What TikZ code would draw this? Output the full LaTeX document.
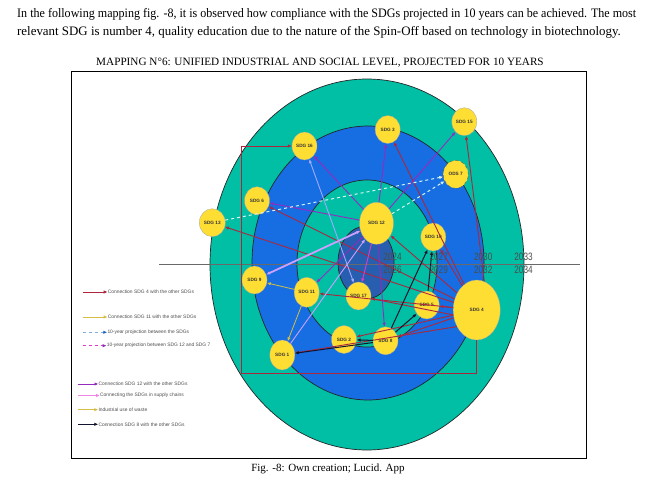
\documentclass[tikz,border=0pt]{standalone}
\usepackage{fontspec}
\setmainfont{Liberation Serif}
\setsansfont{Liberation Sans}
\usetikzlibrary{arrows.meta, shapes.geometric}

\definecolor{ringteal}{RGB}{0,191,165}
\definecolor{ringblue}{RGB}{22,110,226}
\definecolor{coreblue}{RGB}{40,94,176}
\definecolor{sdgyellow}{RGB}{255,222,52}
\definecolor{linkred}{RGB}{172,38,62}
\definecolor{linkpurple}{RGB}{150,42,190}
\definecolor{linklilac}{RGB}{205,160,255}
\definecolor{linkblue}{RGB}{160,170,255}
\definecolor{linkgold}{RGB}{214,190,70}
\definecolor{linkblack}{RGB}{18,20,45}
\definecolor{linkcyan}{RGB}{215,245,240}
\definecolor{legendblue}{RGB}{30,100,200}
\definecolor{legendmagenta}{RGB}{220,60,200}
\definecolor{legendpink}{RGB}{240,130,230}
\definecolor{axisgray}{RGB}{105,105,105}

\begin{document}
\begin{tikzpicture}[
  x=1pt, y=-1pt,
  >={Latex[length=4pt, width=3.4pt]},
  ring/.style={draw=black!85, line width=0.7pt},
  sdg/.style={ellipse, draw=black!35, line width=0.3pt, fill=sdgyellow, inner sep=0pt,
    minimum width=25pt, minimum height=28pt, font=\fontsize{4.7}{5}\selectfont\sffamily\bfseries, text=black!80},
  year/.style={font=\fontsize{8.2}{9}\selectfont\sffamily, text=black!70, inner sep=0pt},
  legendtext/.style={anchor=west, inner sep=0pt, font=\fontsize{4.9}{5}\selectfont\sffamily, text=black!70},
  sdg4link/.style={->, draw=linkred, line width=0.9pt},
  sdg11link/.style={->, draw=linkgold, line width=0.8pt},
  sdg12link/.style={->, draw=linkpurple, line width=0.9pt},
  sdg8link/.style={->, draw=linkblack, line width=1pt},
  supply/.style={->, draw=linklilac, line width=0.9pt},
  projection/.style={->, draw=linkcyan, dashed, line width=1pt}
]
  \useasboundingbox (0,0) rectangle (649,480);

  % texts round the figure
  \node[anchor=base west, inner sep=0pt, font=\fontsize{12.9}{15}\selectfont] (intro1) at (17,17.5)
    {\resizebox{619pt}{\height}{In the following mapping fig. -8, it is observed how compliance with the SDGs projected in 10 years can be achieved. The most}};
  \node[anchor=base west, inner sep=0pt, font=\fontsize{12.9}{15}\selectfont] (intro2) at (17,35)
    {relevant SDG is number 4, quality education due to the nature of the Spin-Off based on technology in biotechnology.};
  \node[anchor=base, inner sep=0pt, font=\fontsize{11.2}{13}\selectfont] (title) at (320,65)
    {MAPPING N°6: UNIFIED INDUSTRIAL AND SOCIAL LEVEL, PROJECTED FOR 10 YEARS};
  \node[anchor=base, inner sep=0pt, font=\fontsize{11}{13}\selectfont] (caption) at (328,471)
    {Fig. -8: Own creation; Lucid. App};
  \draw[line width=0.8pt] (71.8,71.7) rectangle (586.7,458);

  % rings
  \draw[ring, fill=ringteal] (367,264.5) ellipse [x radius=157, y radius=185.5];
  \draw[ring, fill=ringblue] (368,263) ellipse [x radius=116, y radius=137];
  \draw[ring, fill=ringteal] (367,263.5) ellipse [x radius=70, y radius=83.5];
  \draw[ring, fill=coreblue] (366,262.5) ellipse [x radius=28, y radius=36.5];

  % time axis
  \coordinate (axisL) at (159,264.3);
  \coordinate (axisR) at (579.5,264.3);
  \draw[axisgray, line width=1.6pt] (axisL) -- (axisR);

  % SDG nodes
  \node[sdg] (SDG16) at (304.5,146) {SDG 16};
  \node[sdg] (SDG3) at (387.7,129.5) {SDG 3};
  \node[sdg] (SDG15) at (464.3,121.7) {SDG 15};
  \node[sdg, draw=black!70, dashed] (ODS7) at (455.7,174.3) {ODS 7};
  \node[sdg] (SDG6) at (257,200.7) {SDG 6};
  \node[sdg, minimum width=26pt] (SDG13) at (212.3,222.7) {SDG 13};
  \node[sdg, minimum width=34pt, minimum height=42pt] (SDG12) at (376.5,223.3) {SDG 12};
  \node[sdg] (SDG10) at (433.3,237) {SDG 10};
  \node[sdg] (SDG9) at (254.5,280) {SDG 9};
  \node[sdg, minimum height=30pt] (SDG11) at (306.7,292.3) {SDG 11};
  \node[sdg] (SDG17) at (358.5,296) {SDG 17};
  \node[sdg] (SDG5) at (426.7,305) {SDG 5};
  \node[sdg, minimum width=47pt, minimum height=60pt] (SDG4) at (476.7,310) {SDG 4};
  \node[sdg] (SDG2) at (344,339.5) {SDG 2};
  \node[sdg] (SDG8) at (385.5,340.8) {SDG 8};
  \node[sdg, minimum height=30pt] (SDG1) at (282.3,355) {SDG 1};

  % SDG 4 links
  \coordinate (boxBR) at (476.7,373);
  \coordinate (boxTL) at (241,146);
  \draw[sdg4link] (SDG4.south) -- (boxBR) -| (boxTL) -- (SDG16);
  \path (SDG4.75) edge[sdg4link] (SDG15)
        (SDG4) edge[sdg4link] (SDG3)
        (SDG4) edge[sdg4link] (SDG10)
        (SDG4) edge[sdg4link] (SDG12)
        (SDG4) edge[sdg4link] (SDG6)
        (SDG4) edge[sdg4link] (SDG13)
        (SDG4) edge[sdg4link] (SDG11)
        (SDG4.192) edge[sdg4link] (SDG17)
        (SDG4) edge[sdg4link] (SDG5)
        (SDG4) edge[sdg4link] (SDG2)
        (SDG4) edge[sdg4link] (SDG8)
        (SDG4.220) edge[sdg4link] (SDG1);

  % SDG 12 links
  \path (SDG12) edge[sdg12link] (SDG16)
        (SDG12) edge[sdg12link] (SDG3)
        (SDG12) edge[sdg12link] (SDG15)
        (SDG12) edge[sdg12link] (SDG6)
        (SDG12) edge[sdg12link] (SDG11)
        (SDG12) edge[sdg12link, draw=legendmagenta] (SDG17)
        (SDG12) edge[sdg12link] (SDG8);

  % supply chains
  \path (SDG9) edge[supply, <->, line width=1.8pt] (SDG12)
        (SDG1) edge[supply] (SDG12)
        (SDG17) edge[supply, <->, draw=linkblue] (SDG16);

  % SDG 11 links
  \path (SDG11) edge[sdg11link] (SDG9)
        (SDG11) edge[sdg11link] (SDG1);

  % SDG 8 links
  \path (SDG8) edge[sdg8link] (SDG1)
        (SDG8) edge[sdg8link] (SDG10)
        (SDG8) edge[sdg8link] (SDG5)
        (SDG8) edge[sdg8link] (SDG2)
        (SDG5) edge[sdg8link] (SDG10);

  % 10-year projection
  \path (SDG13) edge[projection] (ODS7)
        (SDG12) edge[projection] (ODS7);

  % years on the axis
  \node[year] (y2024) at (392.5,257.3) {\scalebox{1}[1.3]{2024}};
  \node[year] (y2026) at (392.5,269.5) {\scalebox{1}[1.3]{2026}};
  \node[year] (y2027) at (438.7,257.3) {\scalebox{1}[1.3]{2027}};
  \node[year] (y2029) at (438.7,269.5) {\scalebox{1}[1.3]{2029}};
  \node[year] (y2030) at (483.2,257.3) {\scalebox{1}[1.3]{2030}};
  \node[year] (y2032) at (483.2,269.5) {\scalebox{1}[1.3]{2032}};
  \node[year] (y2033) at (523.5,257.3) {\scalebox{1}[1.3]{2033}};
  \node[year] (y2034) at (523.5,269.5) {\scalebox{1}[1.3]{2034}};

  % legend
  \coordinate (lg4s) at (82.7,292);
  \node[legendtext] (lg4) at (107.7,292) {Connection SDG 4 with the other SDGs};
  \draw[sdg4link] (lg4s) -- (lg4.west);
  \coordinate (lg11s) at (82.7,317);
  \node[legendtext] (lg11) at (107.7,317) {Connection SDG 11 with the other SDGs};
  \draw[->, draw=linkgold, line width=0.9pt] (lg11s) -- (lg11.west);
  \coordinate (lgps) at (82.7,332.3);
  \node[legendtext] (lgp) at (107.3,332.3) {10-year projection between the SDGs};
  \draw[-{Latex[length=4pt, width=3.4pt, color=legendblue]}, draw=legendblue!55, dashed, line width=0.9pt] (lgps) -- (lgp.west);
  \coordinate (lgms) at (82.7,345.7);
  \node[legendtext] (lgm) at (106.7,345.7) {10-year projection between SDG 12 and SDG 7};
  \draw[-{Latex[length=4pt, width=3.4pt, color=linkpurple]}, draw=legendmagenta, dashed, line width=0.9pt] (lgms) -- (lgm.west);

  \coordinate (lg12s) at (77.5,384);
  \node[legendtext] (lg12) at (98.5,384) {Connection SDG 12 with the other SDGs};
  \draw[sdg12link] (lg12s) -- (lg12.west);
  \coordinate (lgss) at (78.3,395.5);
  \node[legendtext] (lgs) at (100,395.5) {Connecting the SDGs in supply chains};
  \draw[->, draw=legendpink, line width=0.9pt] (lgss) -- (lgs.west);
  \coordinate (lgws) at (78.3,409.7);
  \node[legendtext] (lgw) at (98.3,409.7) {Industrial use of waste};
  \draw[->, draw=linkgold, line width=0.9pt] (lgws) -- (lgw.west);
  \coordinate (lg8s) at (78.3,424.3);
  \node[legendtext] (lg8) at (98.3,424.3) {Connection SDG 8 with the other SDGs};
  \draw[sdg8link] (lg8s) -- (lg8.west);
\end{tikzpicture}
\end{document}
